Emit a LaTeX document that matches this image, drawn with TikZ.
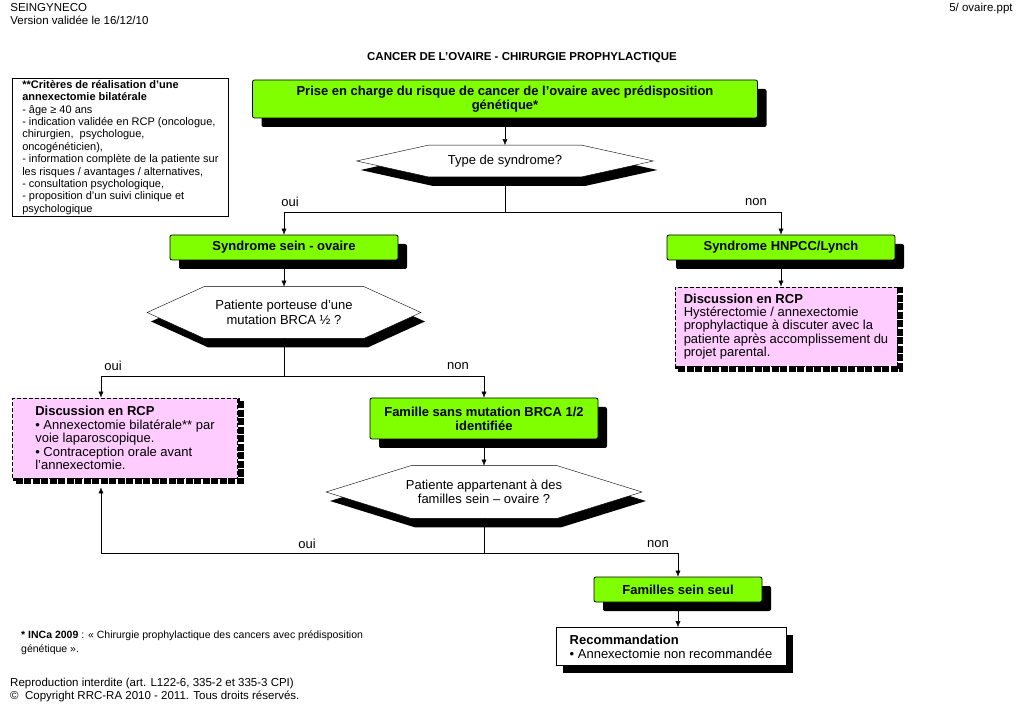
\documentclass[tikz,border=0pt]{standalone}
\usepackage{fontspec}
\setmainfont{Liberation Sans}
\usetikzlibrary{positioning,shadows,arrows.meta,backgrounds}

\definecolor{vertvif}{RGB}{128,255,0}
\definecolor{rose}{RGB}{255,204,255}

% hexagone autour d'un noeud question
\newcommand{\hexagone}[2]{%
  \path[hexa] ([xshift=#2]#1.north west) -- ([xshift=-#2]#1.north east) -- (#1.east)
    -- ([xshift=-#2]#1.south east) -- ([xshift=#2]#1.south west) -- (#1.west) -- cycle;}

\begin{document}
\begin{tikzpicture}[x=1pt, y=-1pt, line width=0.8pt, >={Latex[length=6pt,width=5pt]}]
\useasboundingbox (0,0) rectangle (1023,708);
\tikzstyle{every node} = [inner sep=0pt]
\tikzstyle{vert} = [draw, fill=vertvif, rounded corners=2pt, align=center,
  font=\bfseries\fontsize{13}{14}\selectfont,
  drop shadow={shadow xshift=9pt, shadow yshift=-9pt, fill=black, opacity=1}]
\tikzstyle{question} = [align=center, font=\fontsize{13}{14.5}\selectfont]
\tikzstyle{hexa} = [draw, fill=white,
  drop shadow={shadow xshift=4pt, shadow yshift=-9pt, fill=black, opacity=1}]
\tikzstyle{rcp} = [draw, dash pattern=on 4pt off 2pt, fill=rose, align=left,
  font=\fontsize{13}{13.4}\selectfont,
  preaction={draw=black, line width=6pt, dash pattern=on 7pt off 1.5pt,
    transform canvas={shift={(3pt,-3pt)}}}]
\tikzstyle{reco} = [draw, fill=white, align=left, font=\fontsize{13}{14}\selectfont,
  drop shadow={shadow xshift=7pt, shadow yshift=-7pt, fill=black, opacity=1}]
\tikzstyle{choix} = [font=\fontsize{13}{15}\selectfont]
\tikzstyle{texte} = [anchor=north west, align=left]

% en-tete
\node[texte, font=\fontsize{11.5}{13.5}\selectfont] (entete) at (10,3) {SEINGYNECO\\Version validée le 16/12/10};
\node[anchor=north east, font=\fontsize{11.5}{13.5}\selectfont] (fichier) at (1013,3) {5/ ovaire.ppt};
\node[font=\bfseries\fontsize{11.5}{13}\selectfont] (titre) at (522,58) {CANCER DE L’OVAIRE - CHIRURGIE PROPHYLACTIQUE};

\node[draw, texte, minimum width=216, minimum height=138, font=\fontsize{11}{12.4}\selectfont] (criteres) at (12,78)
  {\textbf{**Critères de réalisation d’une}\\\textbf{annexectomie bilatérale}\\- âge ≥ 40 ans\\
   - indication validée en RCP (oncologue,\\chirurgien,\ \ psychologue,\\oncogénéticien),\\
   - information complète de la patiente sur\\les risques / avantages / alternatives,\\
   - consultation psychologique,\\- proposition d’un suivi clinique et\\psychologique};

% arbre
\node[vert, minimum width=505, minimum height=38] (prise) at (505,99)
  {Prise en charge du risque de cancer de l’ovaire avec prédisposition\\génétique*};
\node[question, minimum width=296, minimum height=31] (type) at (505,161) {Type de syndrome?};
\coordinate (s1) at (505,212);
\node[vert, minimum width=228, minimum height=25] (sein) at (284,247.5) {Syndrome sein - ovaire};
\node[vert, minimum width=228, minimum height=25] (lynch) at (781,247.5) {Syndrome HNPCC/Lynch};
\node[rcp, minimum width=222, minimum height=79] (rcplynch) at (786,326.5)
  {\textbf{Discussion en RCP}\\Hystérectomie / annexectomie\\prophylactique à discuter avec la\\patiente après accomplissement du\\projet parental.};
\node[question, minimum width=273, minimum height=51] (brca) at (284,312.5) {Patiente porteuse d’une\\mutation BRCA ½ ?};
\coordinate (s2) at (284,376);
\node[rcp, minimum width=225, minimum height=80] (rcpsein) at (125,438)
  {\textbf{Discussion en RCP}\\• Annexectomie bilatérale** par\\voie laparoscopique.\\• Contraception orale avant\\l’annexectomie.};
\node[vert, minimum width=228, minimum height=41] (famille) at (484,418.5) {Famille sans mutation BRCA 1/2\\identifiée};
\node[question, minimum width=315, minimum height=52] (famsein) at (484,492) {Patiente appartenant à des\\familles sein – ovaire ?};
\coordinate (s3) at (484,553);
\node[vert, minimum width=168, minimum height=25] (seul) at (678,589.5) {Familles sein seul};
\node[reco, minimum width=230, minimum height=38] (recom) at (671,646.5)
  {\textbf{Recommandation}\\• Annexectomie non recommandée};

\begin{pgfonlayer}{background}
\hexagone{type}{72pt}
\hexagone{brca}{57pt}
\hexagone{famsein}{85pt}
\end{pgfonlayer}

\foreach \from/\to in {prise/type, sein/brca, famille/famsein}
\draw [->] (\from) -- (\to);
\draw [->] (lynch) -- (lynch |- rcplynch.north);
\draw [->] (seul) -- (seul |- recom.north);
\draw (type) -- (s1);
\draw [->] (s1) -| (sein);
\draw [->] (s1) -| (lynch);
\draw (brca) -- (s2);
\draw [->] (s2) -| ([xshift=-24pt]rcpsein.north);
\draw [->] (s2) -| (famille);
\draw (famsein) -- (s3);
\draw [->] (s3) -| ([xshift=-24pt, yshift=-9pt]rcpsein.south);
\draw [->] (s3) -| (seul);

\node[choix] (oui1) at (290,202) {oui};
\node[choix] (non1) at (756,202) {non};
\node[choix] (oui2) at (113,366) {oui};
\node[choix] (non2) at (458,366) {non};
\node[choix] (oui3) at (307,544) {oui};
\node[choix] (non3) at (658,544) {non};

% bas de page
\node[texte, font=\fontsize{10.5}{13.5}\selectfont] (note) at (21,631)
  {\textbf{* INCa 2009} : « Chirurgie prophylactique des cancers avec prédisposition\\génétique ».};
\node[texte, font=\fontsize{11.5}{13}\selectfont] (copyright) at (10,678)
  {Reproduction interdite (art. L122-6, 335-2 et 335-3 CPI)\\©\ \ Copyright RRC-RA 2010 - 2011. Tous droits réservés.};
\end{tikzpicture}
\end{document}
